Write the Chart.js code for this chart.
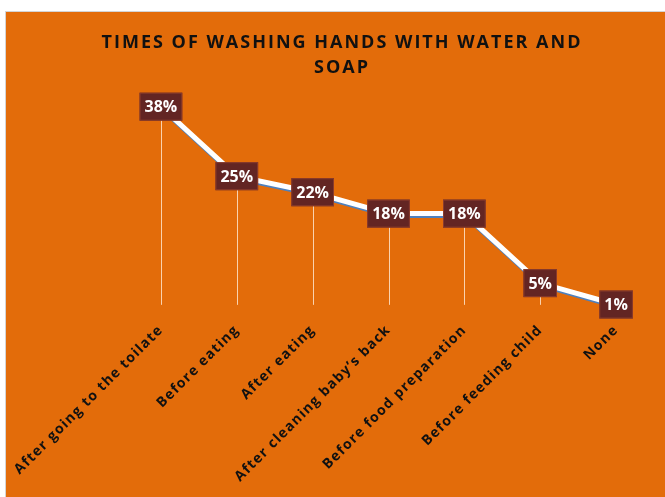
<!DOCTYPE html>
<html>
<head>
<meta charset="utf-8">
<script src="https://cdn.jsdelivr.net/npm/chart.js@4"></script>
<style>
  html, body { margin: 0; padding: 0; background: #fff; }
  #wrap {
    position: absolute; left: 5px; top: 11px;
    width: 659px; height: 485px;
    background: #E36C0A;
    border-left: 1px solid #d4d4d4; border-top: 1px solid #d4d4d4;
  }
</style>
</head>
<body>
<div id="wrap"><canvas id="lineChart" width="659" height="485"></canvas></div>
<script>
// values
const categories = [
  'After going to the toilate',
  'Before eating',
  'After eating',
  'After cleaning baby\u2019s back',
  'Before food preparation',
  'Before feeding child',
  'None'
];
const percentages = [38, 25, 22, 18, 18, 5, 1];
const titleLines = ['TIMES OF WASHING HANDS WITH WATER AND', 'SOAP'];

// title drawn by hand so it can get the wide letter spacing
const spacedTitle = {
  id: 'spacedTitle',
  beforeDraw(chart) {
    const ctx = chart.ctx;
    ctx.save();
    ctx.letterSpacing = '2px';
    ctx.font = 'bold 18px "Open Sans"';
    ctx.fillStyle = '#111111';
    ctx.textAlign = 'center';
    ctx.textBaseline = 'middle';
    titleLines.forEach((line, i) => {
      ctx.fillText(line, 336, 31 + i * 25);
    });
    ctx.restore();
    // a little spacing for the category labels too
    ctx.letterSpacing = '1.2px';
  },
  beforeDatasetsDraw(chart) { chart.ctx.letterSpacing = '0px'; }
};

// thin drop lines from every point down to the axis
const dropLines = {
  id: 'dropLines',
  beforeDatasetsDraw(chart) {
    const { ctx } = chart;
    const y = chart.scales.y;
    const meta = chart.getDatasetMeta(0);
    ctx.save();
    ctx.strokeStyle = 'rgba(255, 236, 215, 0.8)';
    ctx.lineWidth = 1;
    meta.data.forEach(p => {
      const x = Math.round(p.x) + 0.5;
      ctx.beginPath();
      ctx.moveTo(x, p.y);
      ctx.lineTo(x, y.getPixelForValue(0) - 5);
      ctx.stroke();
    });
    ctx.restore();
  }
};

// blue shadow under the white line
const lineShadow = {
  id: 'lineShadow',
  beforeDatasetDraw(chart) {
    const ctx = chart.ctx;
    ctx.save();
    ctx.shadowColor = '#4F81BD';
    ctx.shadowOffsetX = 1;
    ctx.shadowOffsetY = 2;
    ctx.shadowBlur = 0;
  },
  afterDatasetDraw(chart) { chart.ctx.restore(); }
};

// dark red boxes with the percentages
const valueBoxes = {
  id: 'valueBoxes',
  afterDatasetsDraw(chart) {
    const { ctx } = chart;
    const meta = chart.getDatasetMeta(0);
    ctx.save();
    ctx.font = 'bold 16px "Open Sans"';
    ctx.textAlign = 'center';
    ctx.textBaseline = 'middle';
    meta.data.forEach((p, i) => {
      const txt = percentages[i] + '%';
      const w = ctx.measureText(txt).width + 10;
      const h = 28;
      ctx.fillStyle = '#632523';
      ctx.fillRect(p.x - w / 2, p.y - h / 2, w, h);
      ctx.strokeStyle = '#8a3b2c';
      ctx.lineWidth = 1;
      ctx.strokeRect(p.x - w / 2 + 0.5, p.y - h / 2 + 0.5, w - 1, h - 1);
      ctx.fillStyle = '#ffffff';
      ctx.fillText(txt, p.x, p.y + 1);
    });
    ctx.restore();
  }
};

const ctx = document.getElementById('lineChart').getContext('2d');
new Chart(ctx, {
  type: 'line',
  data: {
    labels: categories,
    datasets: [{
      data: percentages,
      borderColor: '#ffffff',
      borderWidth: 5,
      pointRadius: 0,
      tension: 0,
      fill: false
    }]
  },
  options: {
    responsive: false,
    animation: false,
    layout: { padding: { left: 117, right: 11, top: 84, bottom: 0 } },
    plugins: {
      legend: { display: false },
      tooltip: { enabled: false },
      title: { display: false }
    },
    scales: {
      x: {
        offset: true,
        grid: { display: false, drawTicks: false },
        border: { display: false },
        // spaced labels are longer than measured, so give the axis more room
        afterFit(scale) { scale.height += 22; },
        ticks: {
          color: '#111111',
          font: { family: '"Open Sans"', size: 14, weight: 'bold' },
          minRotation: 45,
          maxRotation: 45,
          padding: 12,
          autoSkip: false
        }
      },
      y: {
        display: false,
        min: 0,
        max: 40
      }
    }
  },
  plugins: [spacedTitle, dropLines, lineShadow, valueBoxes]
});
</script>
</body>
</html>
